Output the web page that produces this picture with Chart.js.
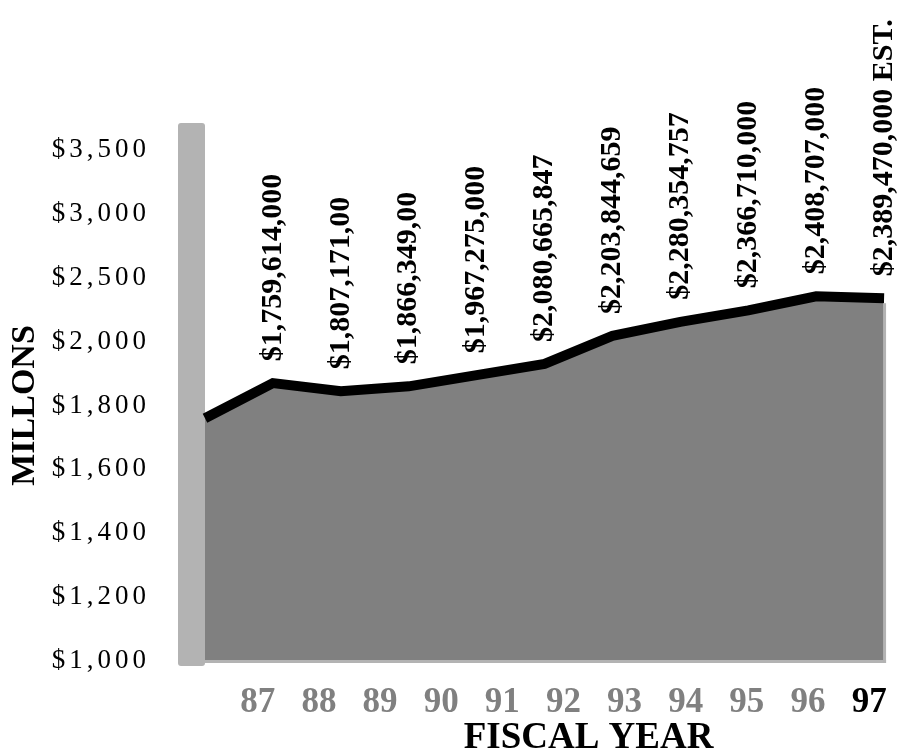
<!DOCTYPE html>
<html>
<head>
<meta charset="utf-8">
<script src="https://cdn.jsdelivr.net/npm/chart.js@4.4.1/dist/chart.umd.min.js"></script>
<style>
    body { margin: 0; background: #fff; }
    #wrap { width: 900px; height: 756px; }
</style>
</head>
<body>
<div id="wrap"><canvas id="spendingChart"></canvas></div>
<script>
// Fiscal years on the floor of the chart
const years = ['87', '88', '89', '90', '91', '92', '93', '94', '95', '96', '97'];
// Height of the area at each year, $ millions
const spending = [1760, 1870, 1845, 1860, 1895, 1930, 2045, 2155, 2245, 2355, 2340];
// Printed value labels, placed above years 88..97
const valueLabels = [
    '$1,759,614,000', '$1,807,171,00', '$1,866,349,00', '$1,967,275,000',
    '$2,080,665,847', '$2,203,844,659', '$2,280,354,757', '$2,366,710,000',
    '$2,408,707,000', '$2,389,470,000 EST.'
];
// Value axis ticks (evenly spaced on the page, uneven in value)
const yTicks = [1000, 1200, 1400, 1600, 1800, 2000, 2500, 3000, 3500];

const SERIF = "'Liberation Serif', 'Times New Roman', serif";
const COLORS = {
    area: '#808080',
    line: '#000000',
    wall: '#b3b3b3',
    year: '#808080'
};

// Value axis where each tick interval gets the same height
class PiecewiseScale extends Chart.LinearScale {
    static id = 'piecewise';

    buildTicks() {
        return yTicks.map(v => ({ value: v }));
    }

    toIndex(v) {
        if (v <= yTicks[0]) return 0;
        for (let i = 1; i < yTicks.length; i++) {
            if (v <= yTicks[i]) {
                return i - 1 + (v - yTicks[i - 1]) / (yTicks[i] - yTicks[i - 1]);
            }
        }
        return yTicks.length - 1;
    }

    getPixelForValue(value) {
        return this.getPixelForDecimal(this.toIndex(value) / (yTicks.length - 1));
    }

    getValueForPixel(pixel) {
        const idx = this.getDecimalForPixel(pixel) * (yTicks.length - 1);
        const i = Math.max(0, Math.min(yTicks.length - 2, Math.floor(idx)));
        return yTicks[i] + (idx - i) * (yTicks[i + 1] - yTicks[i]);
    }

    // the dollar ticks are set with wide letter spacing
    drawLabels(chartArea) {
        this.ctx.save();
        this.ctx.letterSpacing = '4px';
        super.drawLabels(chartArea);
        this.ctx.restore();
    }
}

// Year axis whose title sits a bit right of centre, as in the print
class YearScale extends Chart.LinearScale {
    static id = 'yearLinear';

    drawTitle() {
        this.ctx.save();
        this.ctx.translate(44, 5);
        super.drawTitle();
        this.ctx.restore();
    }
}
Chart.register(PiecewiseScale, YearScale);

// grey back wall on the left and light edges of the area
const wallPlugin = {
    id: 'wall',
    beforeDatasetsDraw(chart) {
        const { ctx, chartArea } = chart;
        ctx.save();
        ctx.fillStyle = COLORS.wall;
        ctx.beginPath();
        ctx.roundRect(chartArea.left - 27, chartArea.top - 27, 27, chartArea.bottom - chartArea.top + 32, 3);
        ctx.fill();
        ctx.restore();
    },
    afterDatasetsDraw(chart) {
        const { ctx, chartArea } = chart;
        const pts = chart.getDatasetMeta(0).data;
        const last = pts[pts.length - 1];
        ctx.save();
        ctx.fillStyle = COLORS.wall;
        ctx.fillRect(chartArea.left, chartArea.bottom - 1, chartArea.right - chartArea.left + 2, 3);
        ctx.fillRect(chartArea.right - 1, last.y + 5, 3, chartArea.bottom - last.y - 3);
        ctx.restore();
    }
};

// vertical value labels above each year
const valueLabelPlugin = {
    id: 'valueLabels',
    afterDatasetsDraw(chart) {
        const { ctx } = chart;
        const pts = chart.getDatasetMeta(0).data;
        ctx.save();
        ctx.font = `bold 30px ${SERIF}`;
        ctx.fillStyle = '#000';
        ctx.textAlign = 'left';
        ctx.textBaseline = 'middle';
        for (let i = 0; i < valueLabels.length; i++) {
            const p = pts[i + 1];
            ctx.save();
            ctx.translate(p.x, p.y - 22);
            ctx.rotate(-Math.PI / 2);
            ctx.fillText(valueLabels[i], 0, 0);
            ctx.restore();
        }
        ctx.restore();
    }
};

const ctx = document.getElementById('spendingChart').getContext('2d');
new Chart(ctx, {
    type: 'line',
    data: {
        labels: years,
        datasets: [{
            data: spending,
            fill: 'start',
            backgroundColor: COLORS.area,
            borderColor: COLORS.line,
            borderWidth: 10,
            borderJoinStyle: 'miter',
            tension: 0,
            pointRadius: 0
        }]
    },
    options: {
        responsive: true,
        maintainAspectRatio: false,
        animation: false,
        layout: { padding: { left: 5, top: 150, right: 13, bottom: 0 } },
        scales: {
            x: {
                type: 'category',
                display: false,
                offset: false
            },
            years: {
                type: 'yearLinear',
                axis: 'x',
                position: 'bottom',
                min: 86.137,
                max: 97.244,
                grid: { display: false },
                border: { display: false },
                afterBuildTicks: (scale) => {
                    scale.ticks = years.map(y => ({ value: Number(y) }));
                },
                afterFit: (scale) => { scale.height = 95; },
                ticks: {
                    autoSkip: false,
                    maxRotation: 0,
                    padding: 13,
                    font: { family: SERIF, size: 35, weight: 'bold' },
                    color: (c) => c.index === years.length - 1 ? '#000' : COLORS.year,
                    callback: (v) => String(v)
                },
                title: {
                    display: true,
                    text: 'FISCAL YEAR',
                    color: '#000',
                    padding: 0,
                    font: { family: SERIF, size: 37, weight: 'bold' }
                }
            },
            y: {
                type: 'piecewise',
                min: 1000,
                max: 3500,
                grid: { display: false },
                border: { display: false },
                afterFit: (scale) => { scale.width = 200; },
                ticks: {
                    autoSkip: false,
                    padding: 47,
                    color: '#000',
                    font: { family: SERIF, size: 27 },
                    callback: (v) => '$' + v.toLocaleString('en-US')
                },
                title: {
                    display: true,
                    text: 'MILLONS',
                    color: '#000',
                    padding: 0,
                    font: { family: SERIF, size: 34, weight: 'bold' }
                }
            }
        },
        plugins: {
            legend: { display: false },
            tooltip: { enabled: false }
        }
    },
    plugins: [wallPlugin, valueLabelPlugin]
});
</script>
</body>
</html>
